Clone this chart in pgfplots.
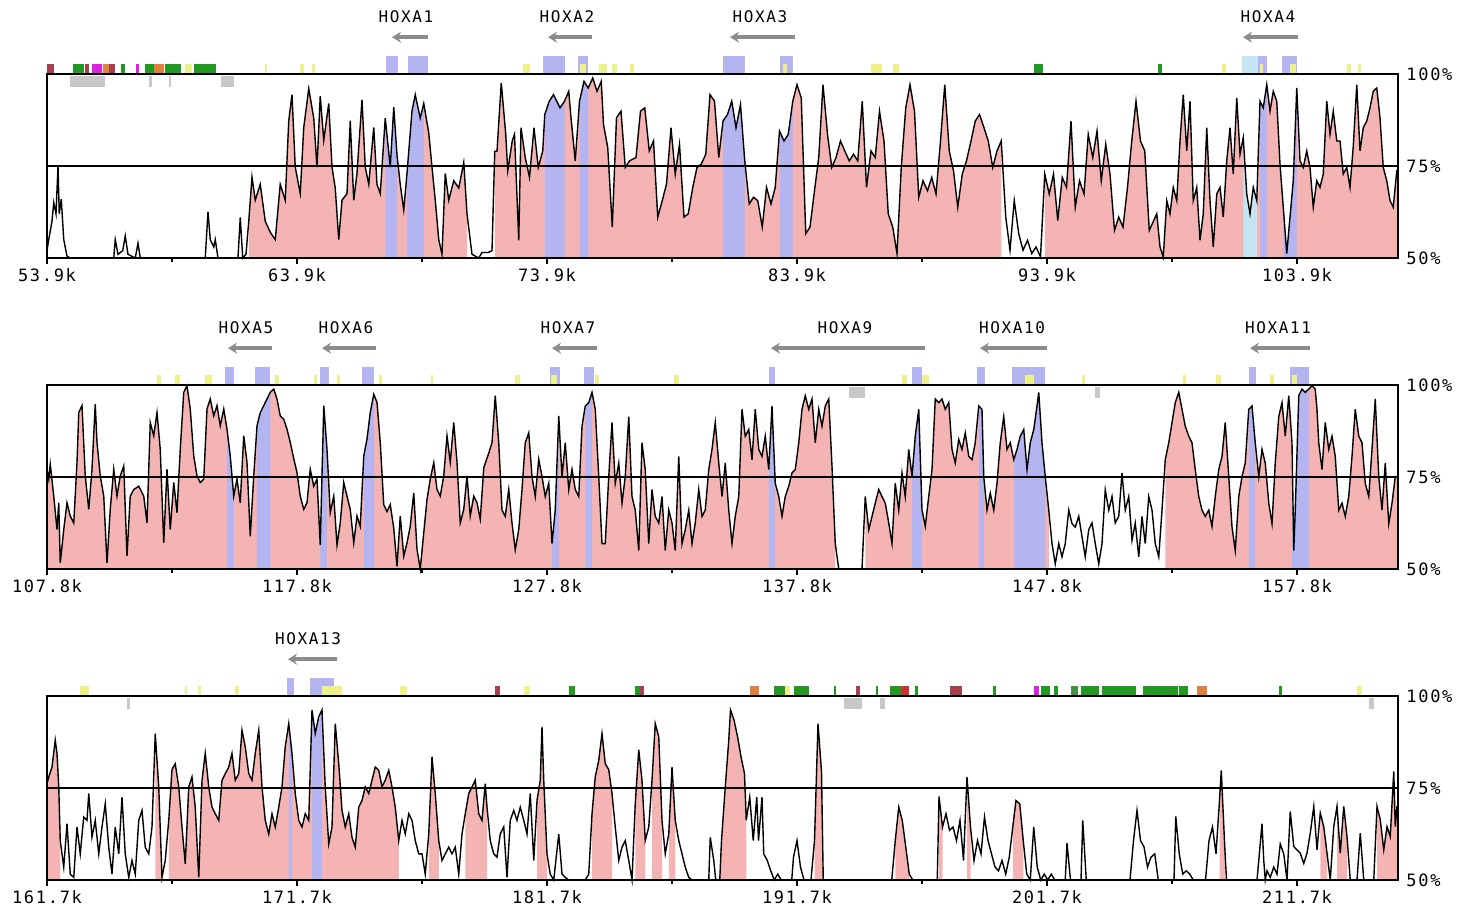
\documentclass[border=0pt]{standalone}
\usepackage{pgfplots}
\pgfplotsset{compat=1.18}
\usepackage{pgfplotstable}
\usetikzlibrary{arrows.meta}
\usepackage{fontspec}
\setmainfont{DejaVu Sans}
\newfontfamily\vfont[LetterSpace=10]{DejaVu Sans Mono}
\newcommand\tickfont{\vfont\fontsize{8.5}{9}\selectfont}
\newcommand\labfont{\vfont\fontsize{8}{9}\selectfont}
\definecolor{vpink}{HTML}{F5B4B4}
\definecolor{vblue}{HTML}{B4B4F0}
\definecolor{vcyan}{HTML}{C4E6F2}
\definecolor{vgray}{HTML}{8C8C8C}
\definecolor{agray}{HTML}{C8C8C8}
\definecolor{amaroon}{HTML}{A4404F}
\definecolor{agreen}{HTML}{229A22}
\definecolor{amag}{HTML}{DD22DD}
\definecolor{aorange}{HTML}{E0803A}
\definecolor{ayellow}{HTML}{EEF08A}
\definecolor{ared}{HTML}{D03030}

\pgfplotstableread[row sep=\\]{
x p\\
53.90 52\\ 53.97 55\\ 54.10 60\\ 54.17 65\\ 54.26 62\\ 54.34 75\\ 54.39 62\\ 54.47 66\\ 54.57 55\\ 54.70 50.5\\ 54.83 50\\
56.57 50\\ 56.63 55\\ 56.74 51\\ 56.93 52\\ 57.03 56\\ 57.14 51\\ 57.43 50\\ 57.54 54\\ 57.63 50\\
60.23 50\\ 60.34 62.6\\ 60.43 55\\ 60.57 53\\ 60.63 55\\ 60.74 50\\ 61.54 50\\ 61.63 61\\ 61.73 50\\ 61.86 51\\ 61.97 60\\
62.10 72\\ 62.23 65.7\\ 62.43 70\\ 62.63 60\\ 62.83 57\\ 63.03 55\\ 63.23 70\\ 63.43 65.7\\ 63.57 87.3\\ 63.70 94.4\\ 63.83 74.7\\
64.03 67.5\\ 64.17 85.5\\ 64.37 96\\ 64.57 88\\ 64.70 74.7\\ 64.83 94\\ 64.97 82\\ 65.17 92\\ 65.30 74.7\\ 65.43 69\\ 65.57 55\\
65.70 65.7\\ 65.90 67.5\\ 66.03 87.3\\ 66.17 65.7\\ 66.30 73\\ 66.50 93\\ 66.63 74.7\\ 66.77 70\\ 66.97 85.5\\ 67.10 70\\ 67.23 67.5\\
67.43 88\\ 67.63 74.7\\ 67.77 91\\ 67.90 78\\ 68.03 70\\ 68.17 63\\ 68.30 73\\ 68.50 90\\ 68.63 94.4\\ 68.83 88\\ 68.97 92\\
69.17 84\\ 69.30 74.7\\ 69.43 65.7\\ 69.57 55\\ 69.70 51\\ 69.83 73\\ 69.97 65.7\\ 70.17 71\\ 70.37 69\\ 70.57 76\\ 70.70 62\\
70.90 51\\ 71.17 50\\ 71.30 51.5\\ 71.55 51.5\\ 71.70 52\\ 71.81 79\\ 71.90 79\\ 72.07 97.6\\ 72.25 83.6\\ 72.33 73.7\\ 72.51 81.8\\
72.60 83.6\\ 72.77 54.8\\ 72.86 85.4\\ 73.03 77.3\\ 73.20 71.9\\ 73.38 85.4\\ 73.55 74.6\\ 73.73 79.1\\ 73.81 89\\ 73.99 92.6\\ 74.16 94.4\\
74.42 90.8\\ 74.60 92.6\\ 74.77 95.3\\ 74.86 88.1\\ 75.03 76.4\\ 75.20 92.6\\ 75.38 98\\ 75.55 96.2\\ 75.73 98.9\\ 75.90 95.3\\ 76.07 98\\
76.16 86.3\\ 76.33 80\\ 76.51 58.4\\ 76.68 88.1\\ 76.86 89.9\\ 77.03 74.6\\ 77.20 76.4\\ 77.46 77.3\\ 77.64 89.9\\ 77.81 90.8\\ 77.99 79.1\\
78.16 81.8\\ 78.33 61.1\\ 78.51 65.6\\ 78.68 70.1\\ 78.86 85.4\\ 79.03 72.8\\ 79.20 80.9\\ 79.38 61.1\\ 79.55 62\\ 79.73 69.2\\ 79.90 74.6\\
80.07 75.5\\ 80.25 78.2\\ 80.42 94.4\\ 80.60 92.6\\ 80.77 77.3\\ 80.94 87.2\\ 81.12 89\\ 81.29 92.6\\ 81.46 85.4\\ 81.64 91.7\\ 81.81 76.4\\
81.99 64.7\\ 82.16 66.5\\ 82.33 65.6\\ 82.51 58.4\\ 82.68 69.2\\ 82.86 64.7\\ 83.03 69.2\\ 83.20 84.5\\ 83.38 81.8\\ 83.55 83.6\\ 83.73 92.6\\
83.90 97.1\\ 84.07 93.5\\ 84.25 56.6\\ 84.42 58.4\\ 84.60 68.3\\ 84.77 77.3\\ 84.94 97.1\\ 85.12 83.6\\ 85.29 74.6\\ 85.46 77.3\\ 85.64 81.8\\
85.81 79.1\\ 85.99 76.4\\ 86.16 78.2\\ 86.33 76.4\\ 86.51 92.6\\ 86.68 69.2\\ 86.86 79.1\\ 87.03 77.3\\ 87.20 89.9\\ 87.38 81.8\\ 87.55 62\\
87.73 58.4\\ 87.90 51.2\\ 88.07 74.6\\ 88.25 90.8\\ 88.42 97.1\\ 88.60 89.9\\ 88.77 66.5\\ 88.94 71\\ 89.12 68.3\\ 89.29 71.9\\ 89.46 67.4\\
89.64 81.8\\ 89.81 97.1\\ 89.99 79.1\\ 90.16 73.7\\ 90.33 63.8\\ 90.51 72.8\\ 90.68 76.4\\ 90.86 81.8\\ 91.03 87.2\\ 91.20 89\\ 91.38 85.4\\
91.55 81.8\\ 91.73 74.6\\ 91.90 79.1\\ 92.07 81.8\\ 92.25 61.1\\ 92.42 52.1\\ 92.59 65.6\\ 92.77 56.6\\ 92.94 52.1\\ 93.12 54.8\\ 93.29 51.2\\
93.46 53\\ 93.64 50.3\\ 93.81 72.8\\ 93.99 67.4\\ 94.16 72.8\\ 94.33 60.2\\ 94.51 71.9\\ 94.68 69.2\\ 94.86 87.2\\ 95.03 63.8\\ 95.20 71\\
95.38 67.4\\ 95.55 83.6\\ 95.73 77.3\\ 95.90 84.5\\ 96.07 71\\ 96.25 80.9\\ 96.42 72.8\\ 96.60 57.5\\ 96.77 61.1\\ 96.94 58.4\\ 97.12 69.2\\
97.29 81.8\\ 97.46 92.6\\ 97.64 81.8\\ 97.81 79.1\\ 97.99 57.5\\ 98.29 62\\ 98.42 53\\ 98.55 50.3\\ 98.69 65.6\\ 98.82 62\\ 98.95 69.2\\
99.09 65.6\\ 99.22 81.8\\ 99.35 94.4\\ 99.49 79.1\\ 99.62 92.6\\ 99.75 65.6\\ 99.89 69.2\\ 100.02 54.8\\ 100.15 62\\ 100.29 85.4\\ 100.42 65.6\\
100.55 53\\ 100.69 67.4\\ 100.82 69.2\\ 100.95 61.1\\ 101.09 76.4\\ 101.22 85.4\\ 101.35 72.8\\ 101.49 93.5\\ 101.62 78.2\\ 101.75 82.7\\ 101.89 67.4\\
102.02 62\\ 102.15 69.2\\ 102.29 65.6\\ 102.42 92.6\\ 102.55 90.8\\ 102.69 97.1\\ 102.82 89.9\\ 102.95 95.3\\ 103.09 92.6\\ 103.22 75.5\\ 103.35 63.8\\
103.49 51.2\\ 103.62 61.1\\ 103.75 71\\ 103.89 96.2\\ 104.02 76.4\\ 104.15 74.6\\ 104.29 79.1\\ 104.42 74.6\\ 104.55 63.8\\ 104.69 71\\ 104.82 69.2\\
104.95 72.8\\ 105.09 92.6\\ 105.22 83.6\\ 105.35 89.9\\ 105.49 81.8\\ 105.62 81.8\\ 105.75 72.8\\ 105.89 74.6\\ 106.02 69.2\\ 106.15 80.3\\ 106.29 97.1\\
106.42 79.1\\ 106.55 85.4\\ 106.69 87.2\\ 106.82 90.8\\ 106.95 95.3\\ 107.09 96.2\\ 107.22 88.1\\ 107.35 74.6\\ 107.49 71\\ 107.62 65.6\\ 107.75 63.8\\
107.89 73.7\\ 107.94 74\\
}\dataA

\pgfplotstableread[row sep=\\]{
x p\\
107.80 77\\ 107.87 74.4\\ 107.93 78.5\\ 108.07 69.8\\ 108.20 60.7\\ 108.27 68\\ 108.33 51.6\\ 108.47 60.7\\ 108.60 68\\ 108.73 64.4\\ 108.87 62.5\\
109.00 78.9\\ 109.07 92.5\\ 109.20 94.4\\ 109.33 75.3\\ 109.47 66.2\\ 109.60 77.1\\ 109.73 94.8\\ 109.80 84.4\\ 109.93 75.3\\ 110.07 69.8\\ 110.20 51.6\\
110.33 66.2\\ 110.47 77.1\\ 110.60 69.8\\ 110.73 75.3\\ 110.87 78\\ 111.00 53.5\\ 111.13 69.8\\ 111.27 71.6\\ 111.47 72.5\\ 111.67 69.8\\ 111.80 62.5\\
111.93 89.8\\ 112.07 86.2\\ 112.20 92.5\\ 112.33 82.5\\ 112.47 57.1\\ 112.60 77.1\\ 112.73 60.7\\ 112.87 73.5\\ 113.00 65.3\\ 113.13 82.5\\ 113.27 98\\
113.40 99.8\\ 113.53 93.5\\ 113.67 80.7\\ 113.80 75.3\\ 113.93 73.5\\ 114.07 74.4\\ 114.20 93.5\\ 114.33 96.2\\ 114.47 91.6\\ 114.60 94.4\\ 114.73 88.9\\
114.87 93.5\\ 115.00 88\\ 115.13 80.7\\ 115.27 69.8\\ 115.40 74.4\\ 115.53 68\\ 115.67 86.2\\ 115.80 79\\ 115.93 58.9\\ 116.07 75.3\\ 116.20 88.9\\
116.33 92.5\\ 116.47 94.4\\ 116.60 96.2\\ 116.73 98\\ 116.87 98.9\\ 117.00 96.2\\ 117.13 91.6\\ 117.27 90.7\\ 117.40 88\\ 117.53 84.4\\ 117.67 80\\
117.80 76.2\\ 117.93 69.8\\ 118.07 66.2\\ 118.20 68\\ 118.33 77.1\\ 118.47 72.5\\ 118.60 74.4\\ 118.73 56.5\\ 118.87 94.4\\ 119.00 82.5\\ 119.13 65.3\\
119.27 69.8\\ 119.40 56.5\\ 119.53 62.5\\ 119.67 73.5\\ 119.80 69.8\\ 119.93 66.2\\ 120.07 57.1\\ 120.20 64.4\\ 120.33 61.6\\ 120.47 80.7\\ 120.60 85.3\\
120.73 92.5\\ 120.87 97.5\\ 121.00 95.3\\ 121.13 84.4\\ 121.27 67.5\\ 121.40 65.6\\ 121.53 67.5\\ 121.67 61.1\\ 121.80 50.7\\ 121.93 64.4\\ 122.07 53.5\\
122.20 57.1\\ 122.33 61.6\\ 122.47 70.7\\ 122.60 55.3\\ 122.73 50\\ 122.87 59.8\\ 123.00 68.9\\ 123.13 74.4\\ 123.27 78.9\\ 123.40 71.6\\ 123.53 69.8\\
123.67 75.3\\ 123.80 86.2\\ 123.93 79\\ 124.07 89.8\\ 124.20 79\\ 124.33 62.5\\ 124.47 66.2\\ 124.60 75.3\\ 124.73 64.4\\ 124.87 69.8\\ 125.00 68\\
125.13 63.5\\ 125.27 77.5\\ 125.47 81.5\\ 125.60 84.3\\ 125.73 97.1\\ 125.87 84.3\\ 126.00 66\\ 126.13 64.3\\ 126.27 71.6\\ 126.40 62.5\\ 126.53 55.2\\
126.67 60.7\\ 126.80 71.6\\ 126.93 84.3\\ 127.07 87\\ 127.20 75.1\\ 127.33 69.7\\ 127.47 79.8\\ 127.60 75.1\\ 127.73 69.7\\ 127.87 73.3\\ 128.00 56.9\\
128.13 66\\ 128.27 91.6\\ 128.40 75.1\\ 128.53 84.3\\ 128.67 71.6\\ 128.80 77.1\\ 128.93 71.6\\ 129.07 69.7\\ 129.20 88.8\\ 129.33 94.3\\ 129.47 95.2\\
129.60 98\\ 129.73 93.4\\ 129.87 75.1\\ 130.00 56.9\\ 130.13 56.9\\ 130.27 75.1\\ 130.40 89.8\\ 130.53 73.3\\ 130.67 78.8\\ 130.80 67.9\\ 130.93 75.1\\
131.07 91.4\\ 131.20 69.7\\ 131.33 66\\ 131.47 55\\ 131.60 84.3\\ 131.73 77\\ 131.87 56.9\\ 132.00 71.6\\ 132.13 64.3\\ 132.27 62.5\\ 132.40 69.7\\
132.53 55\\ 132.67 66\\ 132.80 62.5\\ 132.93 55\\ 133.07 80.6\\ 133.20 56.9\\ 133.33 60.7\\ 133.47 66\\ 133.60 56.9\\ 133.73 62.5\\ 133.87 71.6\\
134.00 64.3\\ 134.13 66\\ 134.27 77\\ 134.40 82.5\\ 134.53 89.8\\ 134.67 78.8\\ 134.80 69.7\\ 134.93 78.8\\ 135.07 66\\ 135.20 56.9\\ 135.33 64.3\\
135.47 69.7\\ 135.60 93.4\\ 135.73 86.1\\ 135.87 87.9\\ 136.00 79.7\\ 136.13 93.4\\ 136.27 82.5\\ 136.40 80.6\\ 136.53 86.1\\ 136.67 77\\ 136.80 94.3\\
136.93 73.3\\ 137.07 69.7\\ 137.20 64.3\\ 137.33 69.7\\ 137.47 72.5\\ 137.60 76.1\\ 137.73 77\\ 137.87 84.3\\ 138.00 93.4\\ 138.13 97.1\\ 138.27 93.4\\
138.40 96.2\\ 138.53 84.3\\ 138.67 93.4\\ 138.80 88.8\\ 138.93 94.3\\ 139.07 96.2\\ 139.20 77.9\\ 139.33 56.9\\ 139.47 50\\ 140.40 50\\ 140.53 69.7\\
140.67 60.7\\ 140.80 64.3\\ 140.93 67.9\\ 141.07 71.6\\ 141.20 69.7\\ 141.33 67.9\\ 141.47 62.5\\ 141.60 56.9\\ 141.73 73.3\\ 141.87 66\\ 142.00 76.1\\
142.13 69.7\\ 142.27 82.5\\ 142.40 75.1\\ 142.53 86.1\\ 142.67 93.4\\ 142.80 66\\ 142.93 61.6\\ 143.07 69.7\\ 143.20 77\\ 143.33 96.2\\ 143.47 95.2\\
143.60 96.2\\ 143.73 93.4\\ 143.87 95.2\\ 144.00 82.5\\ 144.13 78.8\\ 144.27 85.2\\ 144.40 82.5\\ 144.53 87\\ 144.67 80.6\\ 144.80 79.7\\ 144.93 84.3\\
145.07 94.3\\ 145.20 93.4\\ 145.27 75.1\\ 145.40 66\\ 145.53 70.6\\ 145.67 66\\ 145.80 73.3\\ 145.93 84.3\\ 146.07 91.4\\ 146.20 82.5\\ 146.33 84.3\\
146.47 79.7\\ 146.60 82.5\\ 146.73 86.1\\ 146.87 87.9\\ 147.00 77\\ 147.13 84.3\\ 147.27 87.9\\ 147.40 94.3\\ 147.47 98\\ 147.60 84.3\\ 147.73 75.1\\
147.87 66\\ 148.00 56.9\\ 148.13 51.4\\ 148.27 56.9\\ 148.40 53.3\\ 148.53 56.9\\ 148.67 66\\ 148.80 62.3\\ 148.93 61.4\\ 149.07 64.3\\ 149.20 58.8\\
149.33 53.3\\ 149.47 60.7\\ 149.60 62.5\\ 149.73 56.9\\ 149.87 51.4\\ 150.00 56.9\\ 150.13 71.5\\ 150.27 66\\ 150.40 69.7\\ 150.53 62.5\\ 150.67 64.3\\
150.80 76.1\\ 150.93 66\\ 151.07 69.7\\ 151.20 57.8\\ 151.33 62.5\\ 151.47 53.3\\ 151.60 64.3\\ 151.73 56.9\\ 151.87 69.7\\ 152.00 66\\ 152.13 56.9\\
152.27 53.3\\ 152.40 66\\ 152.53 79.7\\ 152.67 84.3\\ 152.80 89.8\\ 152.93 95.2\\ 153.07 98\\ 153.20 93.4\\ 153.33 88.8\\ 153.47 86.1\\ 153.60 84.3\\
153.73 77\\ 153.87 69.7\\ 154.00 66\\ 154.13 64.3\\ 154.27 66\\ 154.40 61.6\\ 154.53 69.7\\ 154.67 77\\ 154.80 80.6\\ 154.93 89.8\\ 155.07 75.1\\
155.20 61.4\\ 155.33 55\\ 155.47 69.7\\ 155.60 75.1\\ 155.73 78.8\\ 155.87 93.4\\ 156.00 94.3\\ 156.13 84.3\\ 156.27 75.1\\ 156.40 82.5\\ 156.53 78.8\\
156.67 67.9\\ 156.80 62.3\\ 156.93 78.8\\ 157.07 91.4\\ 157.20 95.2\\ 157.33 86.1\\ 157.47 97.1\\ 157.60 84.3\\ 157.67 55\\ 157.73 66\\ 157.87 97.1\\
158.00 98.9\\ 158.13 98\\ 158.27 98.9\\ 158.40 99.8\\ 158.53 98.9\\ 158.60 93.4\\ 158.67 84.3\\ 158.80 77\\ 158.93 89.8\\ 159.07 82.5\\ 159.20 86.1\\
159.33 80.6\\ 159.47 66\\ 159.60 67.9\\ 159.73 64.3\\ 159.87 69.7\\ 160.00 80.6\\ 160.13 93.4\\ 160.27 86.1\\ 160.40 84.3\\ 160.53 73.3\\ 160.67 69.7\\
160.80 82.5\\ 160.93 96.2\\ 161.07 75.1\\ 161.20 66\\ 161.33 78.8\\ 161.47 62.3\\ 161.60 67.9\\ 161.73 75.1\\ 161.84 75.1\\
}\dataB

\pgfplotstableread[row sep=\\]{
x p\\
161.70 76.2\\ 161.77 78\\ 161.90 80.7\\ 162.03 88\\ 162.10 84.4\\ 162.17 75.3\\ 162.23 60.7\\ 162.37 53.5\\ 162.50 65.3\\ 162.63 51.6\\ 162.77 50.7\\
162.90 64.4\\ 163.03 57.1\\ 163.17 67.1\\ 163.30 66.2\\ 163.37 73.5\\ 163.50 61.6\\ 163.63 66.2\\ 163.77 57.1\\ 163.90 64.4\\ 164.03 70.7\\ 164.17 58.9\\
164.30 51.6\\ 164.43 64.4\\ 164.57 57.1\\ 164.70 72.5\\ 164.83 57.1\\ 164.97 50.7\\ 165.10 55.3\\ 165.23 51.6\\ 165.37 66.2\\ 165.50 68.9\\ 165.63 58.9\\
165.77 57.1\\ 165.90 64.4\\ 166.03 89.8\\ 166.17 75.3\\ 166.30 50.7\\ 166.43 55.3\\ 166.57 66.2\\ 166.70 80\\ 166.83 81.6\\ 166.97 75.3\\ 167.10 64.4\\
167.23 54.4\\ 167.37 75.3\\ 167.50 78\\ 167.63 69.8\\ 167.77 50.7\\ 167.90 77.1\\ 168.03 84.4\\ 168.17 75.3\\ 168.30 69.8\\ 168.43 68\\ 168.57 66.2\\
168.70 77.1\\ 168.83 78.9\\ 168.97 80.7\\ 169.10 84.4\\ 169.23 77.1\\ 169.37 78.9\\ 169.50 90.7\\ 169.63 86.2\\ 169.77 78.9\\ 169.90 77.1\\ 170.03 84.4\\
170.17 90.7\\ 170.30 75.3\\ 170.43 66.2\\ 170.57 62.5\\ 170.70 68\\ 170.83 64.4\\ 170.97 69.8\\ 171.10 75.3\\ 171.23 86.2\\ 171.37 92.5\\ 171.50 84.4\\
171.63 73.5\\ 171.77 66.2\\ 171.90 64.4\\ 172.03 68\\ 172.17 66.2\\ 172.30 96.2\\ 172.43 89.8\\ 172.57 94.4\\ 172.70 96.2\\ 172.83 75.3\\ 172.97 59.8\\
173.10 64.4\\ 173.23 92.5\\ 173.37 81.6\\ 173.50 68.9\\ 173.63 64.4\\ 173.77 68\\ 173.90 61.6\\ 174.03 58.9\\ 174.17 69.8\\ 174.30 71.6\\ 174.43 75.3\\
174.57 73.5\\ 174.70 77.1\\ 174.83 80.7\\ 174.97 79.8\\ 175.10 75.3\\ 175.23 77.1\\ 175.37 79.8\\ 175.50 75.3\\ 175.63 69.8\\ 175.77 60.7\\ 175.90 66.2\\
176.03 62.5\\ 176.17 68\\ 176.30 66.2\\ 176.43 60.7\\ 176.57 57.1\\ 176.70 57.1\\ 176.83 51.6\\ 176.97 62.5\\ 177.10 83.5\\ 177.23 73.5\\ 177.37 60.7\\
177.50 55.3\\ 177.63 57.1\\ 177.77 58.9\\ 177.90 57.1\\ 178.03 58.9\\ 178.17 51.6\\ 178.30 62.5\\ 178.43 68\\ 178.57 73.5\\ 178.70 75.3\\ 178.83 77.1\\
178.97 68\\ 179.10 66.2\\ 179.23 76.2\\ 179.30 69.8\\ 179.43 60.7\\ 179.57 57.1\\ 179.70 56.2\\ 179.83 62.5\\ 179.97 64.4\\ 180.10 50.7\\ 180.23 66.2\\
180.37 68.9\\ 180.50 66.2\\ 180.63 69.8\\ 180.77 66.2\\ 180.90 62.5\\ 181.03 73.5\\ 181.17 55.3\\ 181.30 71.6\\ 181.43 77.1\\ 181.50 91.6\\ 181.57 77.1\\
181.70 57.1\\ 181.83 51.6\\ 181.97 50\\ 182.17 62.5\\ 182.30 51.6\\ 182.43 50.7\\ 182.57 50\\ 183.23 50\\ 183.37 51.6\\ 183.50 68\\ 183.63 78\\
183.77 82.5\\ 183.90 89.8\\ 184.03 81.6\\ 184.17 80\\ 184.30 73.5\\ 184.43 64.4\\ 184.57 55.3\\ 184.70 58.9\\ 184.83 60.7\\ 184.97 55.3\\ 185.10 50\\
185.23 70.7\\ 185.37 85.4\\ 185.50 77.1\\ 185.63 60.7\\ 185.77 64.4\\ 185.90 77.1\\ 186.03 92.5\\ 186.17 88.9\\ 186.30 66.2\\ 186.43 57.1\\ 186.57 62.5\\
186.70 80.7\\ 186.83 66.2\\ 186.97 60.7\\ 187.10 57.1\\ 187.23 53.5\\ 187.37 50.7\\ 187.50 50\\ 188.17 50\\ 188.23 61.6\\ 188.37 55.3\\ 188.45 50\\
188.61 50\\ 188.68 60.7\\ 188.82 74.3\\ 188.97 88\\ 189.04 96.2\\ 189.18 93.5\\ 189.32 89\\ 189.46 83.5\\ 189.60 78.9\\ 189.67 66.2\\ 189.81 72.5\\
189.95 60.7\\ 190.09 72.5\\ 190.16 60.7\\ 190.30 72.5\\ 190.37 57.1\\ 190.51 55.3\\ 190.65 52.5\\ 190.79 50\\ 190.93 51.6\\ 191.07 50\\ 191.49 50\\
191.56 56.2\\ 191.70 60.7\\ 191.84 53.5\\ 191.98 50\\ 192.26 50\\ 192.40 60.7\\ 192.54 92.5\\ 192.68 79.5\\ 192.75 50\\ 195.49 50\\ 195.63 60.7\\
195.77 69.8\\ 195.91 66.2\\ 196.05 59\\ 196.19 51.6\\ 196.33 50\\ 197.31 50\\ 197.38 72.7\\ 197.52 64.4\\ 197.66 68\\ 197.80 63.5\\ 197.94 64.4\\
198.08 60.7\\ 198.22 66.2\\ 198.36 55.3\\ 198.50 78\\ 198.64 64.4\\ 198.78 55.3\\ 198.92 60.7\\ 199.06 57.1\\ 199.20 67.1\\ 199.34 60.7\\ 199.48 57.1\\
199.62 53.5\\ 199.76 52.5\\ 199.90 55.3\\ 200.05 51.6\\ 200.19 56.2\\ 200.33 64.4\\ 200.46 71.6\\ 200.61 70.7\\ 200.75 60.7\\ 200.89 51.6\\ 201.03 50\\
201.17 64.4\\ 201.31 53.5\\ 201.45 50\\ 201.59 51.6\\ 201.73 50\\ 201.87 51.6\\ 202.01 50\\ 202.43 50\\ 202.50 60\\ 202.64 50\\ 203.06 50\\
203.13 66.2\\ 203.27 50\\ 205.02 50\\ 205.16 60.7\\ 205.30 68.9\\ 205.44 60.7\\ 205.58 59\\ 205.72 53.5\\ 205.86 56.2\\ 206.01 57.1\\ 206.15 50\\
206.78 50\\ 206.85 67.3\\ 206.99 57.1\\ 207.13 51.6\\ 207.27 52.5\\ 207.41 51.6\\ 207.55 50\\ 208.04 50\\ 208.18 60.7\\ 208.32 64.4\\ 208.46 57.1\\
208.60 71.6\\ 208.67 79.8\\ 208.81 59\\ 208.88 50\\ 210.10 50\\ 210.17 55.3\\ 210.30 65.3\\ 210.37 55.3\\ 210.43 50\\ 210.50 52.5\\ 210.63 50.7\\
210.77 53.5\\ 210.90 51.6\\ 211.03 59.8\\ 211.17 57.1\\ 211.30 50\\ 211.43 68.6\\ 211.57 59.1\\ 211.70 58.2\\ 211.83 57.3\\ 211.97 54.5\\ 212.10 57.3\\
212.23 62.7\\ 212.37 70\\ 212.50 58.2\\ 212.63 68.2\\ 212.77 64.5\\ 212.90 57.3\\ 213.03 50\\ 213.17 64.5\\ 213.30 70\\ 213.43 57.3\\ 213.57 70\\
213.70 61.8\\ 213.83 50\\ 214.10 50\\ 214.23 62.7\\ 214.37 50\\ 214.77 50\\ 214.90 70\\ 215.03 66.4\\ 215.17 58.2\\ 215.30 64.5\\ 215.43 61.8\\
215.57 79.5\\ 215.63 64.5\\ 215.70 70\\ 215.74 70\\
}\dataC

\newcommand{\fillseg}[4]{\addplot[fill=#1,draw=none,forget plot,restrict x to domain=#3:#4] table[x=x,y expr=\thisrow{p}-50]{#2}\closedcycle;}
\newcommand{\ann}[5]{\addplot[fill=#1,draw=none,forget plot] coordinates {(#2,#4) (#3,#4) (#3,#5) (#2,#5)};}
\newcommand{\rep}[3]{\ann{#1}{#2}{#3}{50.4}{52.8}}
\newcommand{\exon}[3]{\ann{#1}{#2}{#3}{50.4}{55}}
\newcommand{\gbar}[2]{\ann{agray}{#1}{#2}{46.6}{49.5}}
\newcommand{\gene}[4]{\addplot[draw=vgray,line width=2.2pt,-{Stealth[length=4.5pt,width=5.5pt]},forget plot] coordinates {(#3,60) (#2,60)};
  \node[font=\labfont] at (axis cs:#4,65.6) {#1};}
\newcommand{\curve}[1]{\addplot[black,line width=0.7pt,forget plot] table[x=x,y expr=\thisrow{p}-50]{#1};}

\pgfplotsset{vista/.style={
  scale only axis, width=675.5pt, height=92pt,
  ymin=0, ymax=50, clip=false, axis on top,
  axis line style={line width=1.3pt},
  xtick pos=left, tick align=outside,
  major tick length=3pt, minor tick length=2pt, minor x tick num=1,
  every tick/.style={black,line width=0.8pt},
  ytick={0,25,50}, yticklabels={50\%,75\%,100\%},
  yticklabel pos=right, y tick style={draw=none},
  ymajorgrids, grid style={black,line width=0.6pt},
  yticklabel style={anchor=west,inner sep=1pt,font=\tickfont},
  xticklabel style={font=\tickfont,inner sep=2pt},
}}

\begin{document}
\begin{tikzpicture}
\useasboundingbox (0,0) rectangle (728.5pt,-454.5pt);

% ---------------- panel 1 ----------------
\begin{axis}[vista, at={(23.5pt,-129pt)}, anchor=south west,
  xmin=53.9, xmax=107.94,
  xtick={53.9,63.9,73.9,83.9,93.9,103.9},
  xticklabels={53.9k,63.9k,73.9k,83.9k,93.9k,103.9k}]
\fillseg{vpink}{\dataA}{61.9}{70.85}
\fillseg{vpink}{\dataA}{71.78}{92.2}
\fillseg{vpink}{\dataA}{93.75}{107.94}
\fillseg{vblue}{\dataA}{67.43}{67.92}
\fillseg{vblue}{\dataA}{68.3}{69.15}
\fillseg{vblue}{\dataA}{73.75}{74.6}
\fillseg{vblue}{\dataA}{75.15}{75.56}
\fillseg{vblue}{\dataA}{80.94}{81.82}
\fillseg{vblue}{\dataA}{83.2}{83.74}
\fillseg{vcyan}{\dataA}{101.69}{102.35}
\fillseg{vblue}{\dataA}{102.35}{102.7}
\fillseg{vblue}{\dataA}{103.29}{103.9}
\curve{\dataA}
% annotation track
\rep{amaroon}{53.9}{54.2}
\rep{agreen}{54.93}{55.37}
\rep{amaroon}{55.41}{55.57}
\rep{amag}{55.7}{56.1}
\rep{aorange}{56.13}{56.37}
\rep{amaroon}{56.37}{56.63}
\rep{agreen}{56.87}{57.03}
\rep{amag}{57.46}{57.57}
\rep{agreen}{57.81}{58.17}
\rep{aorange}{58.17}{58.57}
\rep{agreen}{58.63}{59.27}
\rep{ayellow}{59.43}{59.7}
\rep{agreen}{59.77}{60.66}
\rep{ayellow}{62.6}{62.7}
\rep{ayellow}{64.03}{64.17}
\rep{ayellow}{64.5}{64.63}
\rep{ayellow}{72.94}{73.2}
\rep{ayellow}{75.99}{76.3}
\rep{ayellow}{76.5}{76.68}
\rep{ayellow}{77.2}{77.38}
\rep{ayellow}{86.86}{87.29}
\rep{ayellow}{87.73}{87.99}
\rep{agreen}{93.38}{93.73}
\rep{agreen}{98.35}{98.5}
\rep{ayellow}{100.9}{101.05}
\rep{ayellow}{105.9}{106.05}
\rep{ayellow}{106.35}{106.45}
\exon{vblue}{67.45}{67.92}
\exon{vblue}{68.32}{69.15}
\exon{vblue}{73.75}{74.6}
\exon{vblue}{75.15}{75.55}
\exon{vblue}{80.95}{81.82}
\exon{vblue}{83.2}{83.73}
\exon{vcyan}{101.69}{102.35}
\exon{vblue}{102.35}{102.69}
\exon{vblue}{103.29}{103.89}
\rep{ayellow}{75.2}{75.46}
\rep{ayellow}{83.35}{83.5}
\rep{ayellow}{102.42}{102.55}
\rep{ayellow}{103.6}{103.85}
\gbar{54.83}{56.23}
\gbar{57.99}{58.1}
\gbar{58.77}{58.87}
\gbar{60.87}{61.37}
\gene{HOXA1}{67.7}{69.14}{68.26}
\gene{HOXA2}{73.94}{75.7}{74.7}
\gene{HOXA3}{81.22}{83.82}{82.42}
\gene{HOXA4}{101.74}{103.94}{102.74}
\end{axis}

% ---------------- panel 2 ----------------
\begin{axis}[vista, at={(23.5pt,-284.5pt)}, anchor=south west,
  xmin=107.8, xmax=161.84,
  xtick={107.8,117.8,127.8,137.8,147.8,157.8},
  xticklabels={107.8k,117.8k,127.8k,137.8k,147.8k,157.8k}]
\fillseg{vpink}{\dataB}{107.8}{139.4}
\fillseg{vpink}{\dataB}{140.45}{147.9}
\fillseg{vpink}{\dataB}{152.45}{161.84}
\fillseg{vblue}{\dataB}{114.93}{115.27}
\fillseg{vblue}{\dataB}{116.13}{116.73}
\fillseg{vblue}{\dataB}{118.73}{119.07}
\fillseg{vblue}{\dataB}{120.4}{120.87}
\fillseg{vblue}{\dataB}{127.93}{128.33}
\fillseg{vblue}{\dataB}{129.27}{129.67}
\fillseg{vblue}{\dataB}{136.67}{136.93}
\fillseg{vblue}{\dataB}{142.4}{142.8}
\fillseg{vblue}{\dataB}{145.0}{145.3}
\fillseg{vblue}{\dataB}{146.4}{147.73}
\fillseg{vblue}{\dataB}{155.87}{156.16}
\fillseg{vblue}{\dataB}{157.53}{158.27}
\curve{\dataB}
\rep{ayellow}{112.2}{112.35}
\rep{ayellow}{112.9}{113.1}
\rep{ayellow}{114.13}{114.4}
\rep{ayellow}{116.93}{117.07}
\rep{ayellow}{118.47}{118.6}
\rep{ayellow}{119.4}{119.5}
\rep{ayellow}{121.07}{121.2}
\rep{ayellow}{123.15}{123.25}
\rep{ayellow}{126.5}{126.7}
\rep{ayellow}{129.73}{129.87}
\rep{ayellow}{132.87}{133.07}
\rep{ayellow}{142.0}{142.2}
\rep{ayellow}{142.8}{143.07}
\rep{ayellow}{149.2}{149.33}
\rep{ayellow}{153.25}{153.35}
\rep{ayellow}{154.55}{154.75}
\rep{ayellow}{156.73}{156.87}
\exon{vblue}{114.93}{115.27}
\exon{vblue}{116.13}{116.73}
\exon{vblue}{118.73}{119.07}
\exon{vblue}{120.4}{120.87}
\exon{vblue}{127.93}{128.33}
\exon{vblue}{129.27}{129.67}
\exon{vblue}{136.67}{136.93}
\exon{vblue}{142.4}{142.8}
\exon{vblue}{145.0}{145.3}
\exon{vblue}{146.4}{147.73}
\exon{vblue}{155.87}{156.16}
\exon{vblue}{157.53}{158.27}
\rep{ayellow}{127.95}{128.2}
\rep{ayellow}{146.93}{147.27}
\rep{ayellow}{157.6}{157.8}
\gbar{139.87}{140.53}
\gbar{149.73}{149.93}
\gene{HOXA5}{115.04}{116.8}{115.76}
\gene{HOXA6}{118.8}{120.96}{119.76}
\gene{HOXA7}{128.0}{129.8}{128.64}
\gene{HOXA9}{136.76}{142.92}{139.72}
\gene{HOXA10}{145.12}{147.8}{146.4}
\gene{HOXA11}{155.92}{158.32}{157.04}
\end{axis}

% ---------------- panel 3 ----------------
\begin{axis}[vista, at={(23.5pt,-440pt)}, anchor=south west,
  xmin=161.7, xmax=215.74,
  xtick={161.7,171.7,181.7,191.7,201.7,211.7},
  xticklabels={161.7k,171.7k,181.7k,191.7k,201.7k,211.7k}]
\fillseg{vpink}{\dataC}{161.7}{162.25}
\fillseg{vpink}{\dataC}{165.95}{166.3}
\fillseg{vpink}{\dataC}{166.5}{175.8}
\fillseg{vpink}{\dataC}{176.95}{177.4}
\fillseg{vpink}{\dataC}{178.4}{179.35}
\fillseg{vpink}{\dataC}{181.2}{181.8}
\fillseg{vpink}{\dataC}{183.45}{184.35}
\fillseg{vpink}{\dataC}{185.2}{185.65}
\fillseg{vpink}{\dataC}{185.85}{186.35}
\fillseg{vpink}{\dataC}{186.55}{186.85}
\fillseg{vpink}{\dataC}{188.6}{189.75}
\fillseg{vpink}{\dataC}{192.3}{192.75}
\fillseg{vpink}{\dataC}{195.6}{196.2}
\fillseg{vpink}{\dataC}{197.35}{197.6}
\fillseg{vpink}{\dataC}{198.4}{198.65}
\fillseg{vpink}{\dataC}{200.3}{200.8}
\fillseg{vpink}{\dataC}{208.5}{208.85}
\fillseg{vpink}{\dataC}{212.55}{213.0}
\fillseg{vpink}{\dataC}{213.2}{213.75}
\fillseg{vpink}{\dataC}{214.85}{215.74}
\fillseg{vblue}{\dataC}{171.3}{171.6}
\fillseg{vblue}{\dataC}{172.23}{172.8}
\curve{\dataC}
\rep{ayellow}{163.03}{163.37}
\rep{ayellow}{167.2}{167.3}
\rep{ayellow}{167.75}{167.85}
\rep{ayellow}{169.23}{169.37}
\rep{ayellow}{175.83}{176.1}
\rep{amaroon}{179.6}{179.83}
\rep{ayellow}{180.77}{181.03}
\rep{agreen}{182.57}{182.83}
\rep{agreen}{185.23}{185.4}
\rep{amaroon}{185.4}{185.57}
\rep{aorange}{189.81}{190.16}
\rep{agreen}{190.79}{191.21}
\rep{ayellow}{191.21}{191.4}
\rep{agreen}{191.56}{192.19}
\rep{agreen}{193.17}{193.27}
\rep{amaroon}{194.06}{194.2}
\rep{agreen}{194.86}{194.95}
\rep{agreen}{195.42}{195.84}
\rep{ared}{195.84}{196.19}
\rep{agreen}{196.4}{196.54}
\rep{amaroon}{197.8}{198.29}
\rep{agreen}{199.53}{199.67}
\rep{amag}{201.17}{201.38}
\rep{agreen}{201.45}{201.8}
\rep{agreen}{201.97}{202.15}
\rep{agreen!60!gray}{202.64}{202.92}
\rep{agreen}{203.06}{203.76}
\rep{agreen}{203.9}{205.24}
\rep{agreen}{205.52}{206.92}
\rep{agreen}{206.99}{207.34}
\rep{aorange}{207.69}{208.11}
\rep{agreen}{210.97}{211.1}
\rep{ayellow}{214.1}{214.3}
\exon{vblue}{171.3}{171.57}
\exon{vblue}{172.23}{173.17}
\rep{ayellow}{172.7}{173.5}
\gbar{164.9}{165.03}
\gbar{193.59}{194.3}
\gbar{195.0}{195.21}
\gbar{214.57}{214.77}
\gene{HOXA13}{171.34}{173.3}{172.14}
\end{axis}
\end{tikzpicture}
\end{document}
